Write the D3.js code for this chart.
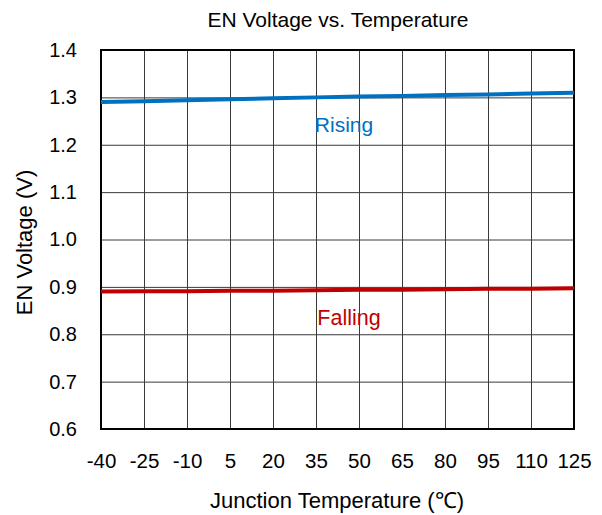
<!DOCTYPE html>
<html>
<head>
<meta charset="utf-8">
<script src="https://cdn.jsdelivr.net/npm/d3@7"></script>
<style>
  html, body { margin: 0; padding: 0; background: #fff; }
  svg { display: block; font-family: Arial, "Liberation Sans", sans-serif; }
</style>
</head>
<body>
<svg id="chart" width="602" height="515"></svg>
<script>
// Junction temperature points (°C)
const temperatures = [-40, -25, -10, 5, 20, 35, 50, 65, 80, 95, 110, 125];
// EN threshold, rising edge (V)
const risingValues = [1.290, 1.292, 1.294, 1.296, 1.298, 1.300, 1.302, 1.303, 1.305, 1.306, 1.308, 1.310];
// EN threshold, falling edge (V)
const fallingValues = [0.890, 0.891, 0.891, 0.892, 0.892, 0.893, 0.894, 0.894, 0.895, 0.896, 0.896, 0.897];
const yTicks = [0.6, 0.7, 0.8, 0.9, 1.0, 1.1, 1.2, 1.3, 1.4];
const seriesNames = ["Rising", "Falling"];

const svg = d3.select("#chart");
const margin = { left: 101, right: 28, top: 50, bottom: 86 };
const W = 602, H = 515;

const x = d3.scaleLinear().domain([-40, 125]).range([margin.left, W - margin.right]);
const y = d3.scaleLinear().domain([0.6, 1.4]).range([H - margin.bottom, margin.top]);

const font = "Arial, 'Liberation Sans', sans-serif";

// vertical grid
svg.append("g")
  .attr("transform", `translate(0,${margin.top})`)
  .call(d3.axisBottom(x).tickValues(temperatures).tickSize(H - margin.bottom - margin.top).tickFormat(""))
  .call(g => g.select(".domain").remove())
  .call(g => g.selectAll("line").attr("stroke", "#3a3a3a").attr("stroke-width", 1));

// horizontal grid
svg.append("g")
  .attr("transform", `translate(${margin.left},0)`)
  .call(d3.axisRight(y).tickValues(yTicks).tickSize(W - margin.right - margin.left).tickFormat(""))
  .call(g => g.select(".domain").remove())
  .call(g => g.selectAll("line").attr("stroke", "#3a3a3a").attr("stroke-width", 1));

// x tick labels (plain hyphen for negatives)
svg.append("g")
  .attr("transform", `translate(0,${H - margin.bottom})`)
  .call(d3.axisBottom(x).tickValues(temperatures).tickSize(0).tickPadding(24).tickFormat(d => String(d)))
  .call(g => g.select(".domain").remove())
  .call(g => g.selectAll("text").attr("font-size", 20.5).attr("font-family", font).attr("fill", "#000"));

// y tick labels
svg.append("g")
  .attr("transform", `translate(${margin.left},0)`)
  .call(d3.axisLeft(y).tickValues(yTicks).tickSize(0).tickPadding(24).tickFormat(d3.format(".1f")))
  .call(g => g.select(".domain").remove())
  .call(g => g.selectAll("text").attr("font-size", 20).attr("font-family", font).attr("fill", "#000"));

// plot frame
svg.append("rect")
  .attr("x", x(-40)).attr("y", y(1.4))
  .attr("width", x(125) - x(-40)).attr("height", y(0.6) - y(1.4))
  .attr("fill", "none").attr("stroke", "#000").attr("stroke-width", 2);

const line = d3.line().x((d, i) => x(temperatures[i])).y(d => y(d));

svg.append("path").datum(risingValues)
  .attr("d", line).attr("fill", "none").attr("stroke", "#0070C0").attr("stroke-width", 4);
svg.append("path").datum(fallingValues)
  .attr("d", line).attr("fill", "none").attr("stroke", "#C00000").attr("stroke-width", 4);

// series labels
svg.append("text").attr("x", x(50) - 15).attr("y", y(1.23) + 1)
  .attr("text-anchor", "middle").attr("font-size", 21).attr("fill", "#0070C0").text(seriesNames[0]);
svg.append("text").attr("x", x(50) - 10).attr("y", y(0.83) + 5)
  .attr("text-anchor", "middle").attr("font-size", 21.5).attr("fill", "#C00000").text(seriesNames[1]);

// title
svg.append("text").attr("x", 338).attr("y", 27)
  .attr("text-anchor", "middle").attr("font-size", 21).attr("fill", "#000")
  .text("EN Voltage vs. Temperature");

// axis titles
svg.append("text").attr("x", 337).attr("y", 508)
  .attr("text-anchor", "middle").attr("font-size", 22).attr("fill", "#000")
  .text("Junction Temperature (℃)");
svg.append("text").attr("transform", `translate(32,242.5) rotate(-90)`)
  .attr("text-anchor", "middle").attr("font-size", 22).attr("fill", "#000")
  .text("EN Voltage (V)");
</script>
</body>
</html>
